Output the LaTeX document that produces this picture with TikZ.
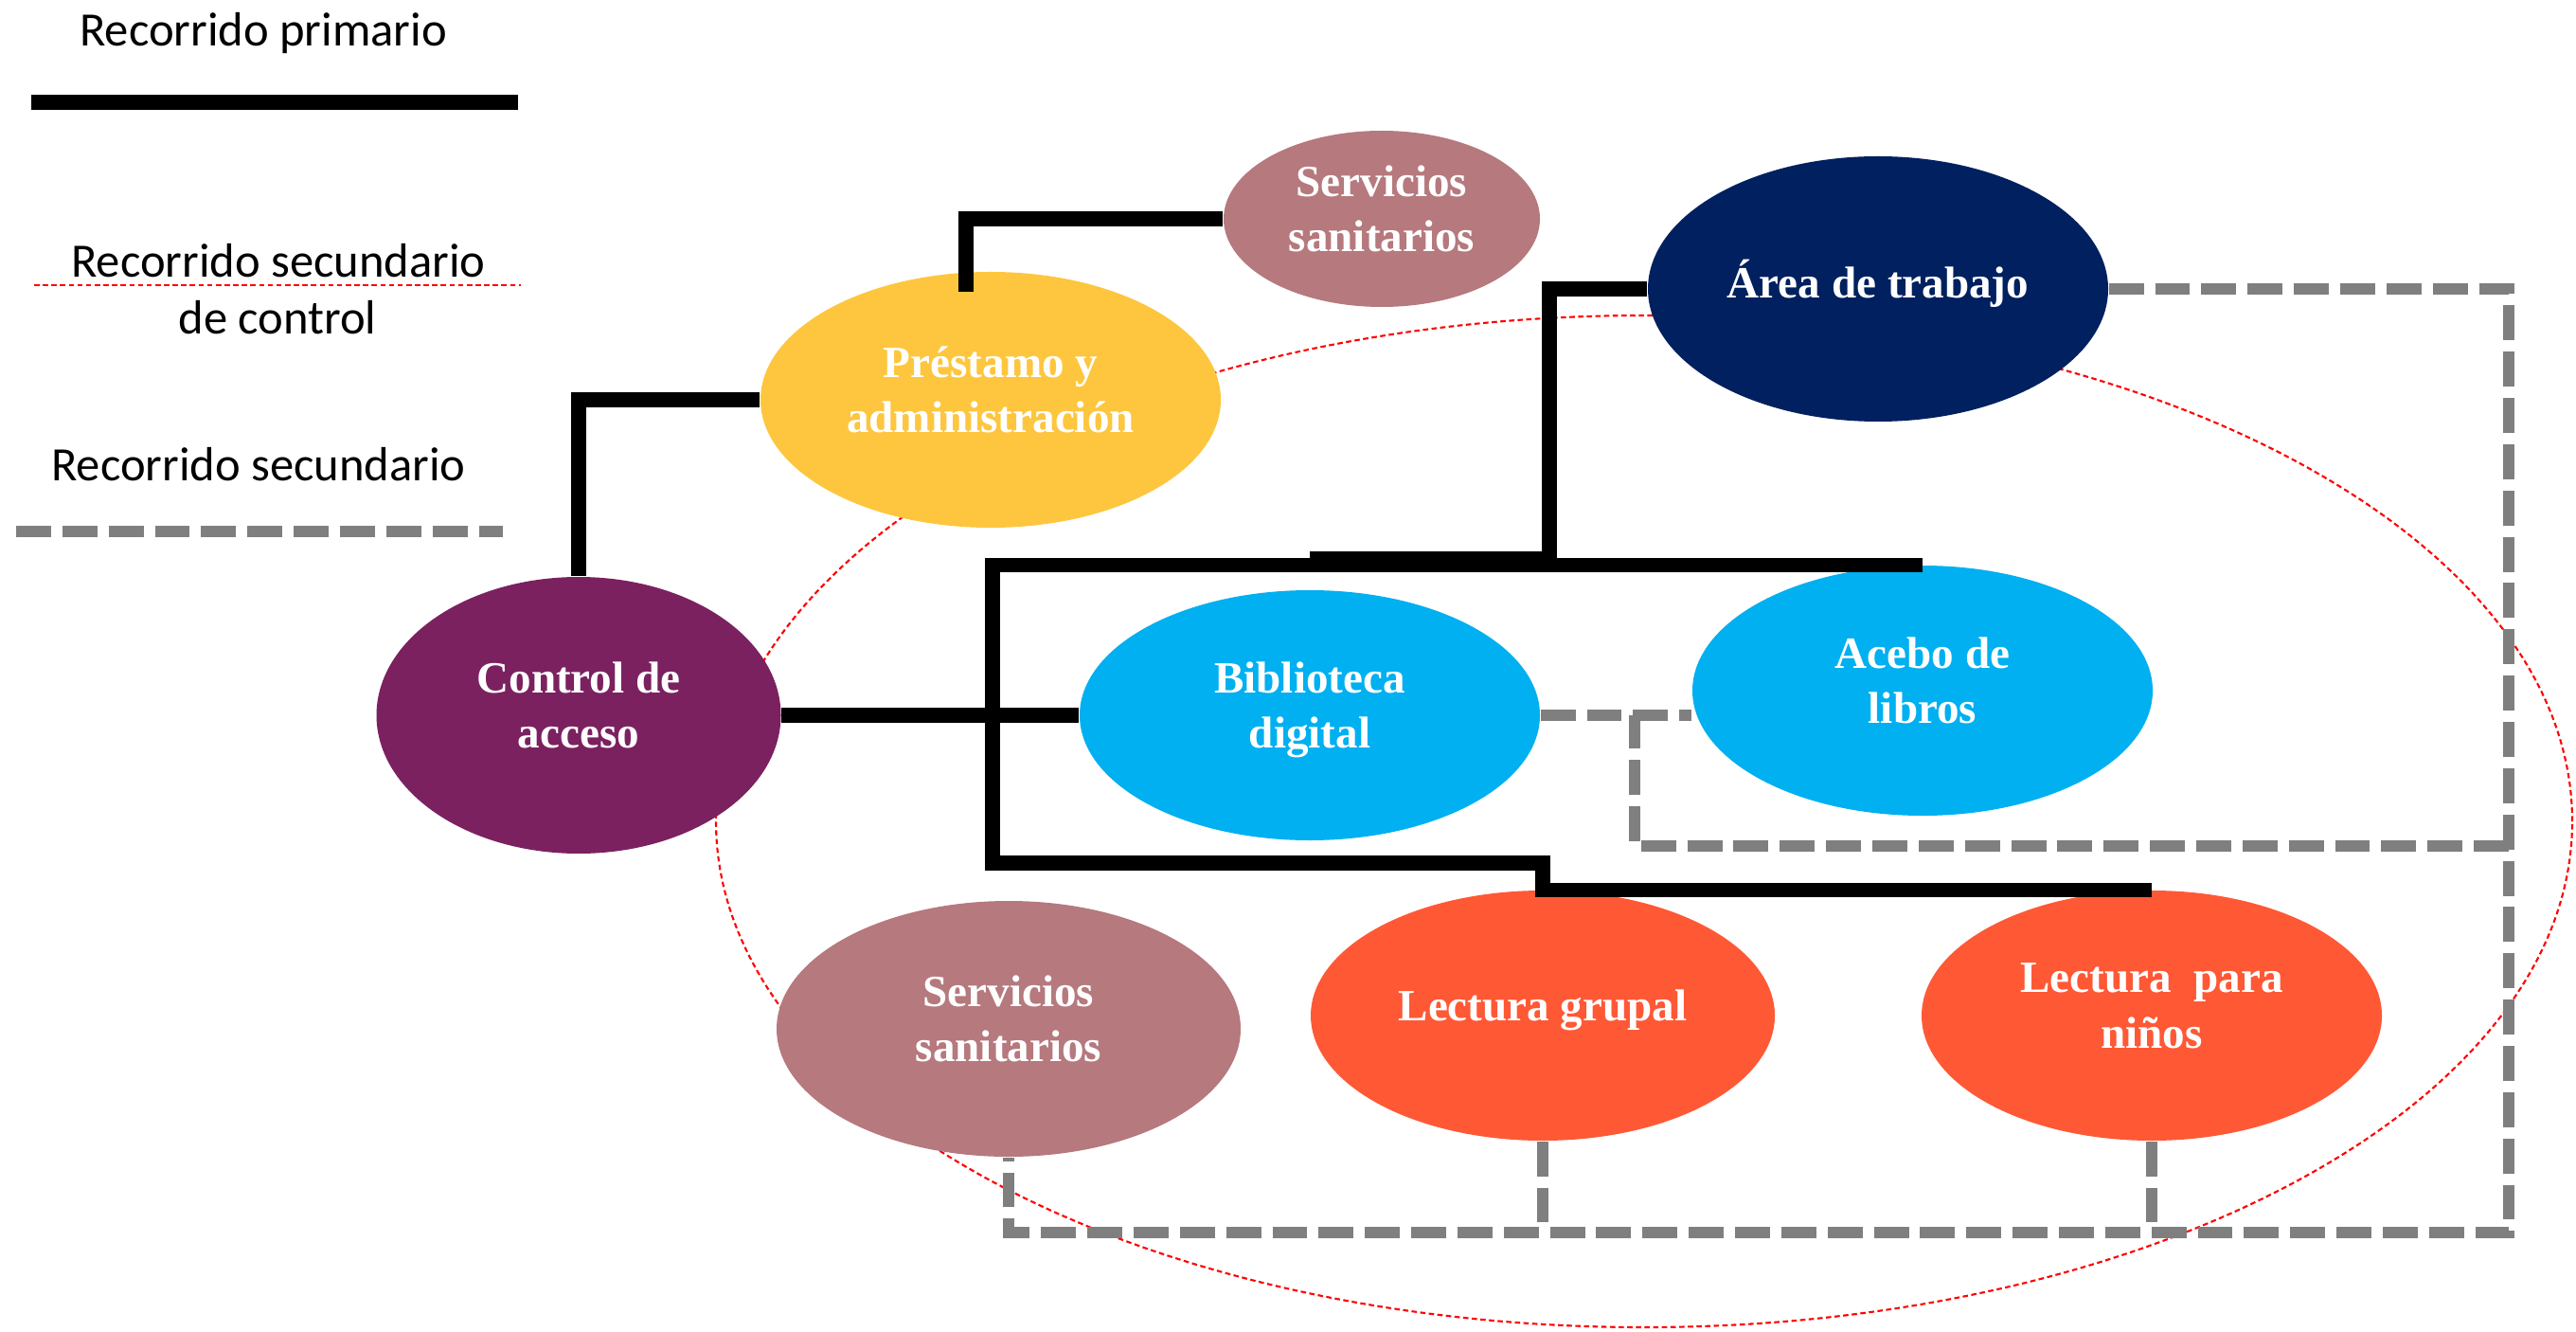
\documentclass[tikz,border=0pt]{standalone}
\usepackage{fontspec}
\setmainfont{Liberation Serif}
\newfontfamily\legendfont{Carlito}
\usepackage{tikz}
\usetikzlibrary{calc,positioning,shapes.geometric}
\definecolor{zoneRose}{HTML}{B5797E}
\definecolor{zoneYellow}{HTML}{FEC63E}
\definecolor{zoneNavy}{HTML}{002060}
\definecolor{zonePlum}{HTML}{7B2160}
\definecolor{zoneCyan}{HTML}{00B0F0}
\definecolor{zoneOrange}{HTML}{FF5835}
\definecolor{routeGray}{HTML}{7F7F7F}
\definecolor{routeRed}{HTML}{FF0000}

\begin{document}
\begin{tikzpicture}[
  zone/.style={ellipse, inner sep=0pt, text=white, align=center, text depth=6pt,
    font=\fontsize{13.4}{16.6}\selectfont\bfseries},
  main route/.style={line width=4.4pt, black},
  side route/.style={line width=3.4pt, routeGray, dash pattern=on 10.5pt off 3.4pt},
  check route/.style={line width=0.6pt, routeRed, dash pattern=on 1.6pt off 1pt},
  legend text/.style={font=\legendfont\fontsize{14.4}{17}\selectfont},
]
\useasboundingbox (0,0) rectangle (27.2,14.05);

% Legend
\node[legend text] (legMain) at (2.78,13.70) {Recorrido primario};
\draw[main route] (0.33,12.97) -- (5.47,12.97);
\node[legend text] (legCheckA) at (2.94,11.30) {Recorrido secundario};
\draw[check route] (0.36,11.04) -- (5.50,11.04);
\node[legend text] (legCheckB) at (2.93,10.70) {de control};
\node[legend text] (legSide) at (2.73,9.15) {Recorrido secundario};
\draw[side route] (0.17,8.44) -- (5.31,8.44);

% Control loop (behind the zones)
\draw[check route] (17.36,5.38) ellipse [x radius=9.80cm, y radius=5.34cm];

% Zones
\node[zone, fill=zoneRose, minimum width=3.34cm, minimum height=1.86cm] (sanTop) at (14.59,11.74) {Servicios\\sanitarios};
\node[zone, fill=zoneYellow, minimum width=4.86cm, minimum height=2.70cm] (prest) at (10.46,9.83) {Préstamo y\\administración};
\node[zone, fill=zoneNavy, minimum width=4.86cm, minimum height=2.80cm] (area) at (19.83,11.00) {Área de trabajo};
\node[zone, fill=zonePlum, minimum width=4.27cm, minimum height=2.92cm] (ctrl) at (6.11,6.50) {Control de\\acceso};
\node[zone, fill=zoneCyan, minimum width=4.86cm, minimum height=2.64cm] (bib) at (13.83,6.50) {Biblioteca\\digital};
\node[zone, fill=zoneCyan, minimum width=4.86cm, minimum height=2.64cm] (acebo) at (20.30,6.76) {Acebo de\\libros};
\node[zone, fill=zoneRose, minimum width=4.90cm, minimum height=2.70cm] (sanBot) at (10.65,3.19) {Servicios\\sanitarios};
\node[zone, fill=zoneOrange, minimum width=4.90cm, minimum height=2.64cm] (lgrup) at (16.29,3.33) {Lectura grupal};
\node[zone, fill=zoneOrange, minimum width=4.86cm, minimum height=2.64cm] (lninos) at (22.72,3.33) {Lectura~~para\\niños};

% Primary routes
\coordinate (jT) at (16.36,8.15);
\coordinate (jL) at (10.48,4.94);
\draw[main route] (sanTop.west) -| ($(prest.north)+(-0.26,-0.22)$);
\draw[main route] (prest.west) -| (ctrl.north);
\draw[main route] (ctrl.east) -- (bib.west);
\draw[main route] (area.west) -| (jT) -- (jT -| bib.north);
\draw[main route] (acebo.north) -| (jL) -| (lgrup.north) -- (lninos.north);

% Secondary routes
\coordinate (gBR) at (26.49,1.04);
\coordinate (gR) at (26.49,5.12);
\coordinate (gK) at (17.26,6.50);
\draw[side route] (area.east) -| (gBR) -| (sanBot.south);
\draw[side route] (gR) -| (gK);
\draw[side route] (bib.east) -- (bib.east -| acebo.west);
\draw[side route] (lgrup.south) -- (lgrup.south |- gBR);
\draw[side route] (lninos.south) -- (lninos.south |- gBR);

\end{tikzpicture}
\end{document}
